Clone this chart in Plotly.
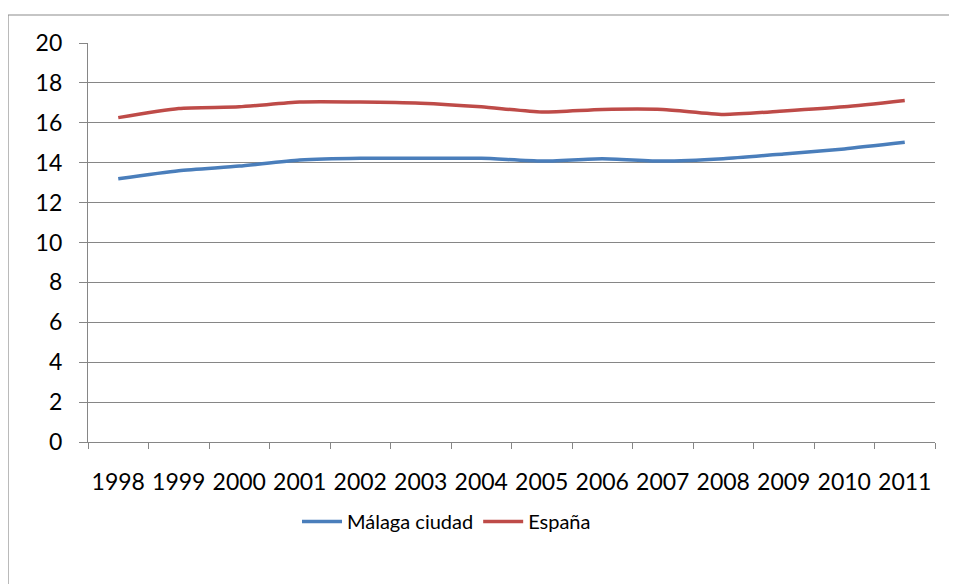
import plotly.graph_objects as go

years = ["1998", "1999", "2000", "2001", "2002", "2003", "2004",
         "2005", "2006", "2007", "2008", "2009", "2010", "2011"]
malaga = [13.2, 13.6, 13.83, 14.13, 14.22, 14.22, 14.22,
          14.08, 14.2, 14.08, 14.2, 14.44, 14.69, 15.02]
espana = [16.26, 16.72, 16.8, 17.04, 17.04, 16.98, 16.8,
          16.54, 16.67, 16.67, 16.42, 16.59, 16.8, 17.12]
y_ticks = [0, 2, 4, 6, 8, 10, 12, 14, 16, 18, 20]

W, H = 957, 584
OFF = 8  # page body margin
# target plot area in screen pixels: x 88..935, y 43..442
L, T = 88 - OFF, 43 - OFF
R = OFF + W - 935
B = OFF + H - 442
pw, ph = W - L - R, H - T - B

fig = go.Figure()
fig.add_trace(go.Scatter(x=years, y=malaga, name="Málaga ciudad", mode="lines",
                         line=dict(color="#4A7EBB", width=3.5, shape="spline", smoothing=0.6)))
fig.add_trace(go.Scatter(x=years, y=espana, name="España", mode="lines",
                         line=dict(color="#BE4B48", width=3.5, shape="spline", smoothing=0.6)))

def px_x(p):  # screen pixel -> paper x
    return (p - OFF - L) / pw

def px_y(p):  # screen pixel -> paper y
    return 1 - (p - OFF - T) / ph

# outer chart-area border (cropped by image edges)
fig.add_shape(type="rect", xref="paper", yref="paper",
              x0=px_x(8), x1=px_x(W + 20), y0=px_y(15), y1=px_y(H + 20),
              line=dict(color="#8C8C8C", width=1.2), fillcolor="rgba(0,0,0,0)", layer="below")

fig.update_layout(
    width=W, height=H,
    margin=dict(l=L, r=R, t=T, b=B, autoexpand=False),
    paper_bgcolor="white", plot_bgcolor="white",
    font=dict(family="Lato, Calibri, sans-serif", size=23, color="#000000"),
    showlegend=True,
    legend=dict(orientation="h", x=px_x(297), xanchor="left", y=px_y(502), yanchor="top",
                font=dict(size=20), itemwidth=40, traceorder="normal",
                bgcolor="rgba(0,0,0,0)"),
    xaxis=dict(type="category", range=[-0.5, 13.5], showgrid=False, showline=True,
               linecolor="#868686", linewidth=1.3, ticks="outside", tickson="boundaries",
               ticklen=6, tickcolor="#868686", ticklabelstandoff=19, tickangle=0,
               fixedrange=True, automargin=False),
    yaxis=dict(range=[0, 20], tickvals=y_ticks, showgrid=True, gridcolor="#868686",
               gridwidth=1.3, showline=True, linecolor="#868686", linewidth=1.3,
               ticks="outside", ticklen=8, tickcolor="#868686", ticklabelstandoff=12,
               zeroline=False, fixedrange=True, automargin=False),
)

fig.write_html("out.html")
